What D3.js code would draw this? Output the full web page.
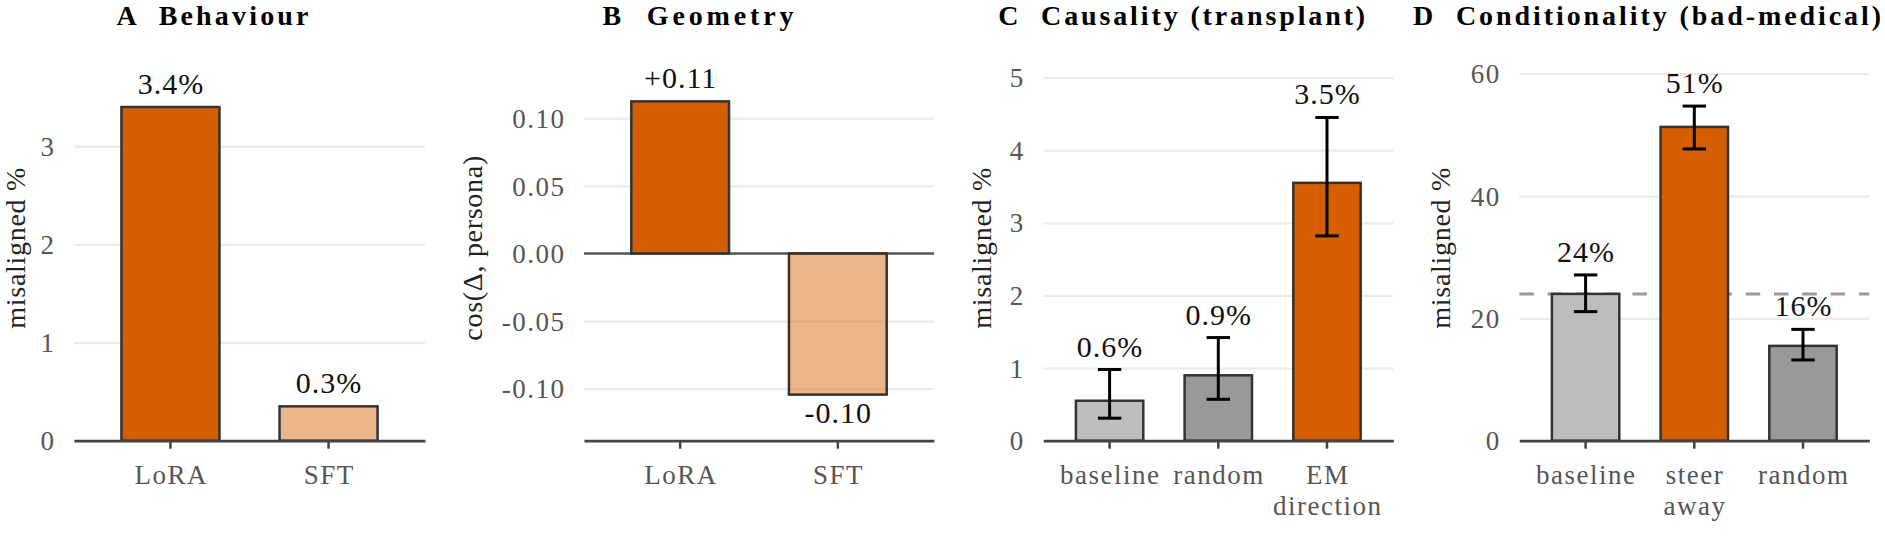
<!DOCTYPE html>
<html>
<head>
<meta charset="utf-8">
<script src="https://cdn.jsdelivr.net/npm/d3@7"></script>
<style>
  body { margin: 0; background: #fff; }
  svg text { font-family: "Liberation Serif", "Times New Roman", Times, serif; }
  .title { font-weight: bold; font-size: 28px; white-space: pre; fill: #000; }
  .tick text { font-size: 27px; fill: #555; letter-spacing: 1.5px; }
  .y-title { font-size: 28px; fill: #222; letter-spacing: 0.7px; }
  .val { font-size: 30px; fill: #111; letter-spacing: 1px; }
</style>
</head>
<body>
<svg id="fig"></svg>
<script>
// ---- data ----
const ORANGE = '#D55E00';
const ORANGE_LIGHT = 'rgba(213,94,0,0.45)';
const GREY_LIGHT = '#BDBDBD';
const GREY = '#999999';

// A  Behaviour
const catsA = ['LoRA', 'SFT'];
const valsA = [3.40, 0.35];
const labelsA = ['3.4%', '0.3%'];
const colorsA = [ORANGE, ORANGE_LIGHT];
const ticksA = [0, 1, 2, 3];

// B  Geometry
const catsB = ['LoRA', 'SFT'];
const valsB = [0.1125, -0.1044];
const labelsB = ['+0.11', '-0.10'];
const colorsB = [ORANGE, ORANGE_LIGHT];
const ticksB = [-0.10, -0.05, 0, 0.05, 0.10];

// C  Causality (transplant)
const catsC = ['baseline', 'random', 'EM\ndirection'];
const valsC = [0.55, 0.90, 3.55];
const loC = [0.31, 0.57, 2.82];
const hiC = [0.98, 1.42, 4.45];
const labelsC = ['0.6%', '0.9%', '3.5%'];
const colorsC = [GREY_LIGHT, GREY, ORANGE];
const ticksC = [0, 1, 2, 3, 4, 5];

// D  Conditionality (bad-medical)
const catsD = ['baseline', 'steer\naway', 'random'];
const valsD = [24.0, 51.3, 15.5];
const loD = [21.1, 47.7, 13.2];
const hiD = [27.1, 54.7, 18.2];
const labelsD = ['24%', '51%', '16%'];
const colorsD = [GREY_LIGHT, ORANGE, GREY];
const ticksD = [0, 20, 40, 60];
const refD = 24.0;

class BarPanel {

  constructor(_config, _data) {
    this.config = {
      svg: _config.svg,
      left: _config.left,
      right: _config.right,
      top: _config.top || 55,
      bottom: _config.bottom || 440.7,
      title: _config.title,
      titleX: _config.titleX,
      titleWidth: _config.titleWidth,
      yTitle: _config.yTitle,
      yTitleOffset: _config.yTitleOffset,
      domain: _config.domain,
      ticks: _config.ticks,
      tickFormat: _config.tickFormat,
      zeroLine: _config.zeroLine || false,
      refLine: _config.refLine
    };
    this.data = _data;
    this.initVis();
    this.renderVis();
  }

  initVis() {
    let vis = this;
    const c = vis.config;
    vis.width = c.right - c.left;
    vis.height = c.bottom - c.top;

    vis.xScale = d3.scaleBand()
        .domain(vis.data.cats)
        .range([0, vis.width])
        .paddingInner(0.38)
        .paddingOuter(0.3);

    vis.yScale = d3.scaleLinear()
        .domain(c.domain)
        .range([vis.height, 0]);

    vis.xAxis = d3.axisBottom(vis.xScale)
        .tickSize(8)
        .tickSizeOuter(0);

    vis.yAxis = d3.axisLeft(vis.yScale)
        .tickValues(c.ticks)
        .tickFormat(c.tickFormat)
        .tickSize(-vis.width)
        .tickPadding(18.5);

    vis.chart = c.svg.append('g')
        .attr('transform', `translate(${c.left},${c.top})`);

    vis.yAxisG = vis.chart.append('g').attr('class', 'axis y-axis');
    vis.marksG = vis.chart.append('g');
    vis.xAxisG = vis.chart.append('g')
        .attr('class', 'axis x-axis')
        .attr('transform', `translate(0,${vis.height})`);

    // panel title, spread out to the width it has in the figure
    const title = c.svg.append('text')
        .attr('class', 'title')
        .attr('x', c.titleX)
        .attr('y', 24.5)
        .attr('text-anchor', 'middle')
        .text(c.title);
    const natural = title.node().getComputedTextLength();
    const n = c.title.length;
    const sp = Math.max(0, (c.titleWidth - natural) / (n - 1));
    title.style('letter-spacing', sp + 'px')
        .attr('x', c.titleX + sp / 2);

    vis.chart.append('text')
        .attr('class', 'y-title')
        .attr('transform', `translate(${-c.yTitleOffset},${vis.height / 2}) rotate(-90)`)
        .attr('text-anchor', 'middle')
        .text(c.yTitle);
  }

  renderVis() {
    let vis = this;
    const c = vis.config;
    const d = vis.data;
    const x = vis.xScale, y = vis.yScale;
    const idx = d.cats.map((_, i) => i);

    // grid
    vis.yAxisG.call(vis.yAxis)
        .call(g => g.select('.domain').remove())
        .call(g => g.selectAll('.tick line').attr('stroke', '#ebebeb').attr('stroke-width', 2.3))
        .call(g => g.selectAll('.tick text').attr('dy', '0.34em'));

    if (c.refLine !== undefined) {
      vis.marksG.append('line')
          .attr('x1', 0).attr('x2', vis.width)
          .attr('y1', y(c.refLine)).attr('y2', y(c.refLine))
          .attr('stroke', '#999').attr('stroke-width', 3)
          .attr('stroke-dasharray', '14.5,13.8');
    }

    if (c.zeroLine) {
      vis.marksG.append('line')
          .attr('x1', 0).attr('x2', vis.width)
          .attr('y1', y(0)).attr('y2', y(0))
          .attr('stroke', '#555').attr('stroke-width', 2.5);
    }

    // bars
    vis.marksG.selectAll('.bar')
        .data(idx)
      .join('rect')
        .attr('class', 'bar')
        .attr('x', i => x(d.cats[i]))
        .attr('width', x.bandwidth())
        .attr('y', i => Math.min(y(d.vals[i]), y(0)))
        .attr('height', i => Math.abs(y(d.vals[i]) - y(0)))
        .attr('fill', i => d.colors[i])
        .attr('stroke', '#333')
        .attr('stroke-width', 2.5);

    // error bars
    if (d.lo) {
      const cap = 11.7;
      const eb = vis.marksG.selectAll('.err')
          .data(idx)
        .join('g')
          .attr('class', 'err')
          .attr('transform', i => `translate(${x(d.cats[i]) + x.bandwidth() / 2},0)`)
          .attr('stroke', '#000')
          .attr('stroke-width', 3);
      eb.append('line').attr('y1', i => y(d.lo[i])).attr('y2', i => y(d.hi[i]));
      eb.append('line').attr('x1', -cap).attr('x2', cap).attr('y1', i => y(d.lo[i])).attr('y2', i => y(d.lo[i]));
      eb.append('line').attr('x1', -cap).attr('x2', cap).attr('y1', i => y(d.hi[i])).attr('y2', i => y(d.hi[i]));
    }

    // value labels
    vis.marksG.selectAll('.val')
        .data(idx)
      .join('text')
        .attr('class', 'val')
        .attr('text-anchor', 'middle')
        .attr('x', i => x(d.cats[i]) + x.bandwidth() / 2 + 0.5)
        .attr('y', i => {
          if (d.vals[i] < 0) return y(d.vals[i]) + 28;
          const top = d.hi ? d.hi[i] : d.vals[i];
          return y(top) - 13;
        })
        .text(i => d.labels[i]);

    // bottom axis
    vis.xAxisG.call(vis.xAxis)
        .call(g => g.select('.domain').attr('stroke', '#444').attr('stroke-width', 2.7))
        .call(g => g.selectAll('.tick line').attr('stroke', '#444').attr('stroke-width', 2.5))
        .call(g => g.selectAll('.tick text').each(function(t) {
          const el = d3.select(this);
          el.text(null).attr('y', 43.8).attr('dy', null);
          t.split('\n').forEach((s, k) => {
            el.append('tspan').attr('x', 0.75).attr('dy', k === 0 ? 0 : 31).text(s);
          });
        }));
  }
}

const svg = d3.select('#fig')
    .attr('width', 1885)
    .attr('height', 539)
    .style('background', '#fff');

const intFmt = t => String(t);

new BarPanel({
  svg, left: 74, right: 425, title: 'A  Behaviour', titleX: 212.5, titleWidth: 192,
  yTitle: 'misaligned %', yTitleOffset: 49.5,
  domain: [0, 3.93], ticks: ticksA, tickFormat: intFmt
}, { cats: catsA, vals: valsA, labels: labelsA, colors: colorsA });

new BarPanel({
  svg, left: 584, right: 934, title: 'B  Geometry', titleX: 698, titleWidth: 191,
  yTitle: 'cos(Δ, persona)', yTitleOffset: 102.3,
  domain: [-0.1385, 0.1468], ticks: ticksB, tickFormat: t => t.toFixed(2), zeroLine: true
}, { cats: catsB, vals: valsB, labels: labelsB, colors: colorsB });

new BarPanel({
  svg, left: 1043.3, right: 1393.3, title: 'C  Causality (transplant)', titleX: 1181.7, titleWidth: 367,
  yTitle: 'misaligned %', yTitleOffset: 52.6,
  domain: [0, 5.31], ticks: ticksC, tickFormat: intFmt
}, { cats: catsC, vals: valsC, lo: loC, hi: hiC, labels: labelsC, colors: colorsC });

new BarPanel({
  svg, left: 1519.3, right: 1869.3, title: 'D  Conditionality (bad-medical)', titleX: 1647, titleWidth: 468,
  yTitle: 'misaligned %', yTitleOffset: 69.3,
  domain: [0, 63.05], ticks: ticksD, tickFormat: intFmt, refLine: refD
}, { cats: catsD, vals: valsD, lo: loD, hi: hiD, labels: labelsD, colors: colorsD });
</script>
</body>
</html>
